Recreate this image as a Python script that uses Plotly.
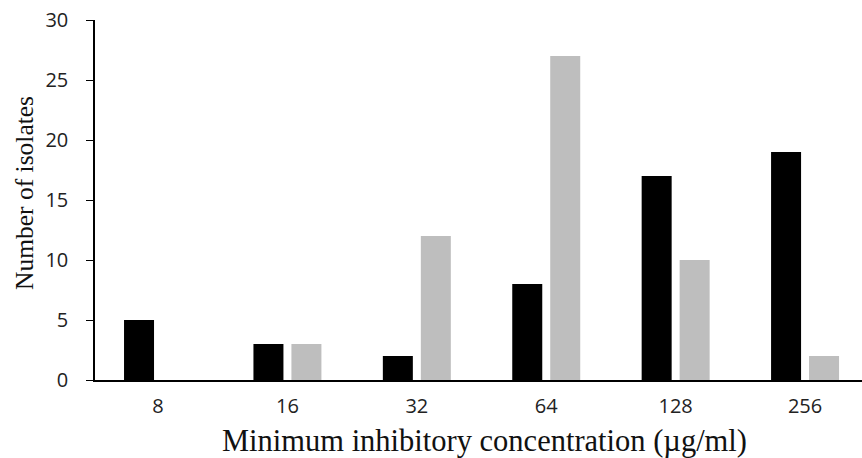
import plotly.graph_objects as go

categories = ["8", "16", "32", "64", "128", "256"]
series_black = [5, 3, 2, 8, 17, 19]
series_gray = [0, 3, 12, 27, 10, 2]
y_ticks = [0, 5, 10, 15, 20, 25, 30]

fig = go.Figure()
fig.add_trace(go.Bar(x=categories, y=series_black, marker=dict(color="#000000", line=dict(width=0)), name="A"))
fig.add_trace(go.Bar(x=categories, y=series_gray, marker=dict(color="#BEBEBE", line=dict(width=0)), name="B"))

tick_font = dict(family="Open Sans", size=20, color="#222222")

fig.update_layout(
    width=862, height=458,
    margin=dict(l=95, r=0, t=20, b=78),
    paper_bgcolor="white", plot_bgcolor="white",
    barmode="group", bargap=0.413, bargroupgap=0.21,
    showlegend=False,
    xaxis=dict(
        type="category", range=[-0.487, 5.44], automargin=False,
        showline=True, linecolor="#000000", linewidth=1.5,
        ticks="", showgrid=False, zeroline=False,
        tickfont=tick_font, ticklabelstandoff=7,
    ),
    yaxis=dict(
        range=[0, 30], tickvals=y_ticks, automargin=False,
        showline=True, linecolor="#000000", linewidth=1.5,
        ticks="outside", ticklen=7, tickcolor="#000000", tickwidth=1,
        showgrid=False, zeroline=False,
        tickfont=tick_font, ticklabelstandoff=14,
    ),
    annotations=[
        dict(text="Minimum inhibitory concentration (\u00b5g/ml)", xref="paper", yref="paper",
             x=0.5, y=0, xanchor="center", yanchor="middle", yshift=-61, xshift=6, showarrow=False,
             font=dict(family="Liberation Serif", size=30.5, color="#111111")),
        dict(text="Number of isolates", xref="paper", yref="paper",
             x=0, y=0.5, xanchor="center", yanchor="middle", xshift=-71, yshift=7, textangle=-90,
             showarrow=False, font=dict(family="Liberation Serif", size=25.5, color="#111111")),
    ],
)

fig.write_html("out.html", config={"displayModeBar": False},
               post_script="document.body.style.margin='0';document.body.style.overflow='hidden';")
